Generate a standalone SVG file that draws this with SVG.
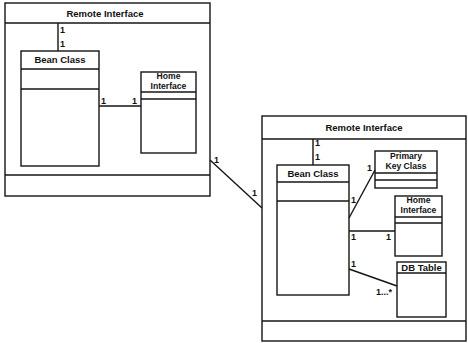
<svg xmlns="http://www.w3.org/2000/svg" width="468" height="343" viewBox="0 0 468 343">
<style>
.box{fill:none;stroke:#151515;stroke-width:1.4}
.ln{stroke:#151515;stroke-width:1.4;fill:none}
.t{font-family:"Liberation Sans",Arial,sans-serif;font-weight:bold;font-size:9.5px;fill:#111;text-anchor:middle}
.t2{font-family:"Liberation Sans",Arial,sans-serif;font-weight:bold;font-size:8.6px;fill:#111;text-anchor:middle}
.l{font-family:"Liberation Sans",Arial,sans-serif;font-weight:bold;font-size:9px;fill:#111}
</style>
<rect width="468" height="343" fill="#fff"/>
<g id="left-remote">
<rect class="box" x="5" y="3" width="205" height="193"/>
<line class="ln" x1="5" y1="23" x2="210" y2="23"/>
<line class="ln" x1="5" y1="175" x2="210" y2="175"/>
<text class="t" x="105" y="17">Remote Interface</text>
</g>
<g id="left-bean">
<rect class="box" x="21" y="51" width="78" height="115"/>
<line class="ln" x1="21" y1="69" x2="99" y2="69"/>
<line class="ln" x1="21" y1="89" x2="99" y2="89"/>
<text class="t" x="60" y="63">Bean Class</text>
</g>
<g id="left-home">
<rect class="box" x="141" y="72" width="55" height="81"/>
<line class="ln" x1="141" y1="92" x2="196" y2="92"/>
<line class="ln" x1="141" y1="99" x2="196" y2="99"/>
<text class="t2" x="168.5" y="79">Home</text>
<text class="t2" x="168.5" y="89">Interface</text>
</g>
<g id="right-remote">
<rect class="box" x="262" y="116" width="204" height="225"/>
<line class="ln" x1="262" y1="139" x2="466" y2="139"/>
<line class="ln" x1="262" y1="321" x2="466" y2="321"/>
<text class="t" x="364" y="131">Remote Interface</text>
</g>
<g id="right-bean">
<rect class="box" x="277" y="165" width="72" height="130"/>
<line class="ln" x1="277" y1="182" x2="349" y2="182"/>
<line class="ln" x1="277" y1="201" x2="349" y2="201"/>
<text class="t" x="313" y="177">Bean Class</text>
</g>
<g id="primary-key">
<rect class="box" x="375" y="151" width="62" height="37"/>
<line class="ln" x1="375" y1="173" x2="437" y2="173"/>
<line class="ln" x1="375" y1="180" x2="437" y2="180"/>
<text class="t2" x="406" y="159">Primary</text>
<text class="t2" x="406" y="169">Key Class</text>
</g>
<g id="right-home">
<rect class="box" x="395" y="196" width="47" height="60"/>
<line class="ln" x1="395" y1="217" x2="442" y2="217"/>
<line class="ln" x1="395" y1="223" x2="442" y2="223"/>
<text class="t2" x="418.5" y="203">Home</text>
<text class="t2" x="418.5" y="213">Interface</text>
</g>
<g id="db-table">
<rect class="box" x="397" y="262" width="49" height="55"/>
<line class="ln" x1="397" y1="273" x2="446" y2="273"/>
<text class="t" x="421.5" y="271">DB Table</text>
</g>
<g id="connectors">
<line class="ln" x1="58" y1="23" x2="58" y2="51"/>
<line class="ln" x1="99" y1="106" x2="141" y2="106"/>
<line class="ln" x1="210" y1="160" x2="262" y2="208"/>
<line class="ln" x1="313" y1="139" x2="313" y2="165"/>
<line class="ln" x1="349" y1="218" x2="375" y2="170"/>
<line class="ln" x1="349" y1="231" x2="395" y2="231"/>
<line class="ln" x1="349" y1="269" x2="397" y2="286"/>
</g>
<g id="labels">
<text class="l" x="60" y="33">1</text>
<text class="l" x="60" y="47">1</text>
<text class="l" x="101" y="104">1</text>
<text class="l" x="132" y="104">1</text>
<text class="l" x="214" y="163">1</text>
<text class="l" x="252" y="196">1</text>
<text class="l" x="315" y="146">1</text>
<text class="l" x="315" y="160">1</text>
<text class="l" x="367" y="171">1</text>
<text class="l" x="351" y="203">1</text>
<text class="l" x="351" y="240">1</text>
<text class="l" x="386" y="240">1</text>
<text class="l" x="351" y="267">1</text>
<text class="l" x="376" y="295">1...*</text>
</g>
</svg>
